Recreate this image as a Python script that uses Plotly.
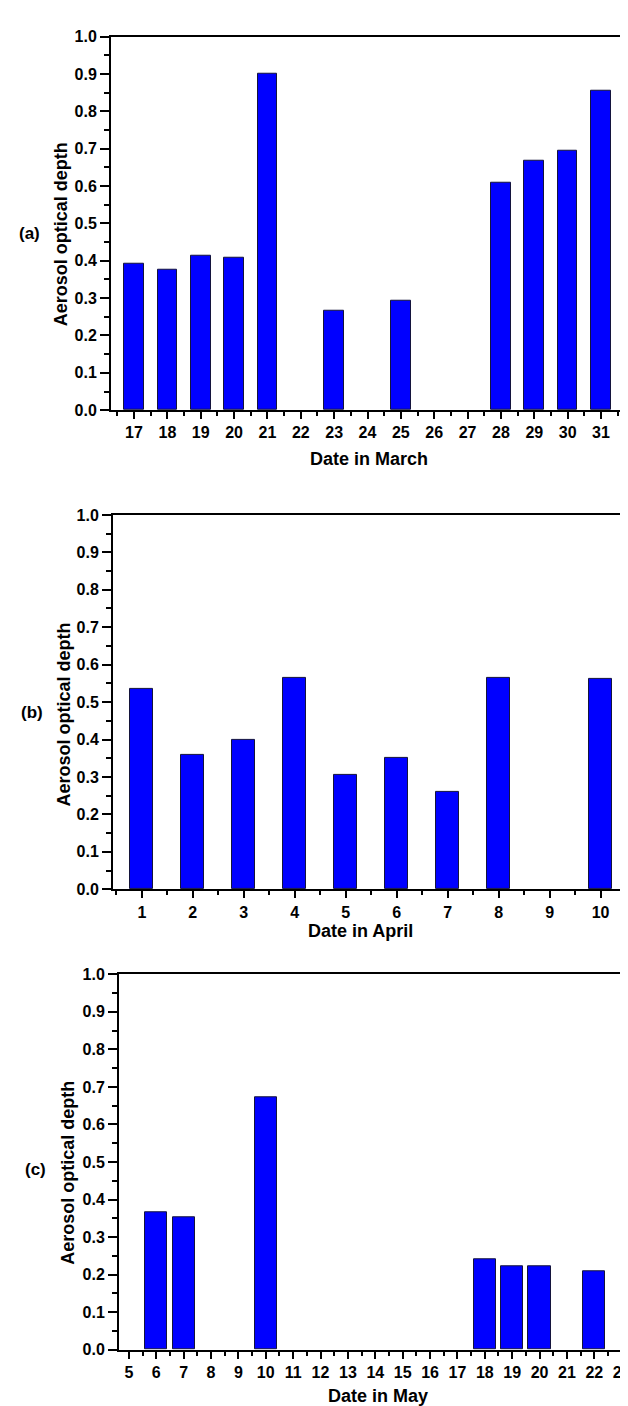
import plotly.graph_objects as go

march_days = [17, 18, 19, 20, 21, 23, 25, 28, 29, 30, 31]
march_aod = [0.393, 0.375, 0.414, 0.407, 0.902, 0.266, 0.292, 0.608, 0.668, 0.694, 0.855]

april_days = [1, 2, 3, 4, 5, 6, 7, 8, 10]
april_aod = [0.536, 0.358, 0.399, 0.564, 0.306, 0.350, 0.259, 0.565, 0.561]

may_days = [6, 7, 10, 18, 19, 20, 22]
may_aod = [0.366, 0.354, 0.672, 0.240, 0.221, 0.223, 0.210]

W, H = 628, 1406
FONT = "Liberation Sans, Arial, sans-serif"
BAR = "#0000FF"
EDGE = "#14143c"

def px_x(a, b):
    return [a / W, b / W]

def px_y(top, bottom):
    return [1 - bottom / H, 1 - top / H]

panels = [
    dict(days=march_days, aod=march_aod, width=0.59, xr=[16.31, 31.66],
         xd=px_x(103, 615), yd=px_y(21, 399), xtitle="Date in March",
         xt=(361, 448), yt=(53, 221), lab="(a)", labpos=(21, 220)),
    dict(days=april_days, aod=april_aod, width=0.45, xr=[0.434, 10.46],
         xd=px_x(105, 616), yd=px_y(505, 884), xtitle="Date in April",
         xt=(352, 926), yt=(56, 707), lab="(b)", labpos=(24, 705)),
    dict(days=may_days, aod=may_aod, width=0.81, xr=[4.64, 23.34],
         xd=px_x(111, 623), yd=px_y(970, 1350), xtitle="Date in May",
         xt=(370, 1397), yt=(60, 1171), lab="(c)", labpos=(28, 1168)),
]

fig = go.Figure()
layout = dict(width=W, height=H, margin=dict(l=0, r=0, t=0, b=0),
              paper_bgcolor="white", plot_bgcolor="white", showlegend=False,
              font=dict(family=FONT, color="black"), bargap=0)
annotations = []
for i, p in enumerate(panels, start=1):
    sfx = "" if i == 1 else str(i)
    fig.add_trace(go.Bar(x=p["days"], y=p["aod"], width=p["width"],
                         marker=dict(color=BAR, line=dict(color=EDGE, width=1)),
                         xaxis="x" + sfx, yaxis="y" + sfx))
    layout["xaxis" + sfx] = dict(
        domain=p["xd"], anchor="y" + sfx, range=p["xr"], tickmode="linear",
        tick0=0, dtick=1, ticks="outside", ticklen=7, tickwidth=2,
        tickcolor="black", showline=True, linewidth=2, linecolor="black",
        mirror=True, showgrid=False, zeroline=False, ticklabeloverflow="allow",
        tickfont=dict(family=FONT, size=16, color="black", weight="bold"),
        minor=dict(tickmode="linear", tick0=0.5, dtick=1, ticks="outside",
                   ticklen=4, tickwidth=2, tickcolor="black", showgrid=False),
        fixedrange=True)
    layout["yaxis" + sfx] = dict(
        domain=p["yd"], anchor="x" + sfx, range=[0, 1], tickmode="linear",
        tick0=0, dtick=0.1, tickformat=".1f", ticks="outside", ticklen=9,
        tickwidth=2, tickcolor="black", showline=True, linewidth=2,
        linecolor="black", mirror=True, showgrid=False, zeroline=False,
        tickfont=dict(family=FONT, size=16, color="black", weight="bold"),
        minor=dict(tickmode="linear", tick0=0.05, dtick=0.1, ticks="outside",
                   ticklen=5, tickwidth=2, tickcolor="black", showgrid=False),
        fixedrange=True)
    annotations.append(dict(text="<b>%s</b>" % p["xtitle"], x=p["xt"][0] / W,
                            y=1 - p["xt"][1] / H, xref="paper", yref="paper",
                            showarrow=False, xanchor="center", yanchor="middle",
                            font=dict(family=FONT, size=18, color="black")))
    annotations.append(dict(text="<b>Aerosol optical depth</b>", x=p["yt"][0] / W,
                            y=1 - p["yt"][1] / H, xref="paper", yref="paper",
                            showarrow=False, xanchor="center", yanchor="middle",
                            textangle=-90,
                            font=dict(family=FONT, size=18, color="black")))
    annotations.append(dict(text="<b>%s</b>" % p["lab"], x=p["labpos"][0] / W,
                            y=1 - p["labpos"][1] / H, xref="paper", yref="paper",
                            showarrow=False, xanchor="center", yanchor="middle",
                            font=dict(family=FONT, size=17, color="black")))
layout["annotations"] = annotations
fig.update_layout(**layout)
fig.write_html("out.html")
